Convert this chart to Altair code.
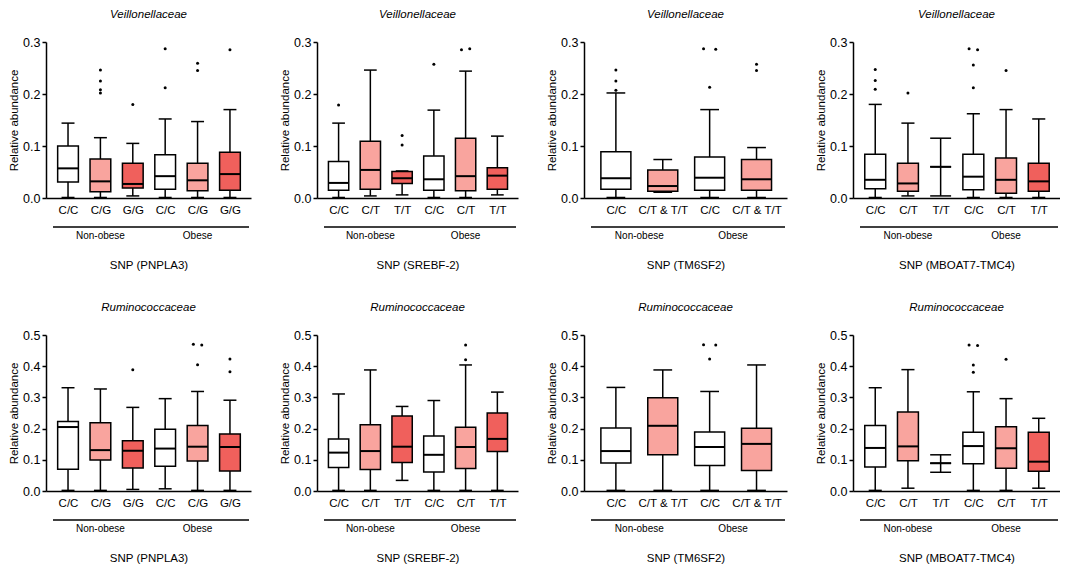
import json
import altair as alt
import pandas as pd

# ---------------- data ----------------
FAMILIES = ["Veillonellaceae", "Ruminococcaceae"]
GROUPS = ["Non-obese", "Obese"]
SNPS = ["PNPLA3", "SREBF-2", "TM6SF2", "MBOAT7-TMC4"]
GENOTYPES = {
    "PNPLA3": ["C/C", "C/G", "G/G"],
    "SREBF-2": ["C/C", "C/T", "T/T"],
    "TM6SF2": ["C/C", "C/T & T/T"],
    "MBOAT7-TMC4": ["C/C", "C/T", "T/T"],
}
Y_MAX = [0.3, 0.5]
Y_TICKS = [[0.0, 0.1, 0.2, 0.3], [0.0, 0.1, 0.2, 0.3, 0.4, 0.5]]

# Veillonellaceae (order: Non-obese genotypes, then Obese genotypes)
V_PNPLA3_lo = [0.001, 0.001, 0.004, 0.001, 0.001, 0.001]
V_PNPLA3_q1 = [0.031, 0.012, 0.019, 0.017, 0.014, 0.015]
V_PNPLA3_med = [0.057, 0.032, 0.027, 0.042, 0.034, 0.046]
V_PNPLA3_q3 = [0.100, 0.075, 0.067, 0.083, 0.067, 0.088]
V_PNPLA3_hi = [0.144, 0.116, 0.105, 0.152, 0.147, 0.170]
V_PNPLA3_out = [[], [0.246, 0.225, 0.208, 0.202], [0.180], [0.287, 0.212], [0.259, 0.245], [0.285]]

V_SREBF2_lo = [0.001, 0.004, 0.006, 0.001, 0.001, 0.006]
V_SREBF2_q1 = [0.015, 0.017, 0.028, 0.015, 0.014, 0.017]
V_SREBF2_med = [0.029, 0.054, 0.038, 0.036, 0.042, 0.043]
V_SREBF2_q3 = [0.070, 0.109, 0.051, 0.081, 0.115, 0.058]
V_SREBF2_hi = [0.144, 0.246, 0.052, 0.169, 0.244, 0.119]
V_SREBF2_out = [[0.179], [], [0.120, 0.102], [0.257], [0.285, 0.287], []]

V_TM6SF2_lo = [0.001, 0.011, 0.001, 0.001]
V_TM6SF2_q1 = [0.017, 0.013, 0.015, 0.015]
V_TM6SF2_med = [0.038, 0.023, 0.039, 0.036]
V_TM6SF2_q3 = [0.089, 0.054, 0.079, 0.074]
V_TM6SF2_hi = [0.202, 0.074, 0.170, 0.097]
V_TM6SF2_out = [[0.246, 0.225, 0.207], [], [0.287, 0.286, 0.213], [0.257, 0.245]]

V_MBOAT7_lo = [0.001, 0.004, 0.004, 0.001, 0.001, 0.001]
V_MBOAT7_q1 = [0.018, 0.013, 0.060, 0.016, 0.009, 0.013]
V_MBOAT7_med = [0.035, 0.028, 0.060, 0.041, 0.035, 0.032]
V_MBOAT7_q3 = [0.084, 0.067, 0.060, 0.084, 0.077, 0.067]
V_MBOAT7_hi = [0.180, 0.144, 0.115, 0.162, 0.170, 0.152]
V_MBOAT7_out = [[0.247, 0.226, 0.209], [0.202], [], [0.287, 0.285, 0.256, 0.212], [0.245], []]

# Ruminococcaceae
R_PNPLA3_lo = [0.002, 0.002, 0.005, 0.007, 0.002, 0.002]
R_PNPLA3_q1 = [0.070, 0.099, 0.074, 0.079, 0.096, 0.064]
R_PNPLA3_med = [0.205, 0.131, 0.129, 0.136, 0.142, 0.141]
R_PNPLA3_q3 = [0.223, 0.219, 0.161, 0.198, 0.210, 0.183]
R_PNPLA3_hi = [0.331, 0.327, 0.268, 0.296, 0.319, 0.291]
R_PNPLA3_out = [[], [], [0.389], [], [0.470, 0.468, 0.405], [0.423, 0.382]]

R_SREBF2_lo = [0.002, 0.002, 0.034, 0.002, 0.002, 0.002]
R_SREBF2_q1 = [0.075, 0.069, 0.091, 0.061, 0.072, 0.127]
R_SREBF2_med = [0.123, 0.128, 0.142, 0.116, 0.141, 0.167]
R_SREBF2_q3 = [0.167, 0.212, 0.240, 0.176, 0.204, 0.250]
R_SREBF2_hi = [0.311, 0.388, 0.271, 0.290, 0.404, 0.317]
R_SREBF2_out = [[], [], [], [], [0.468, 0.421], []]

R_TM6SF2_lo = [0.002, 0.002, 0.002, 0.002]
R_TM6SF2_q1 = [0.090, 0.116, 0.082, 0.066]
R_TM6SF2_med = [0.128, 0.209, 0.141, 0.151]
R_TM6SF2_q3 = [0.202, 0.299, 0.189, 0.201]
R_TM6SF2_hi = [0.332, 0.388, 0.319, 0.404]
R_TM6SF2_out = [[], [], [0.469, 0.468, 0.423], []]

R_MBOAT7_lo = [0.002, 0.009, 0.060, 0.002, 0.002, 0.009]
R_MBOAT7_q1 = [0.077, 0.097, 0.089, 0.087, 0.073, 0.063]
R_MBOAT7_med = [0.138, 0.143, 0.089, 0.144, 0.137, 0.094]
R_MBOAT7_q3 = [0.210, 0.253, 0.089, 0.188, 0.206, 0.188]
R_MBOAT7_hi = [0.331, 0.389, 0.116, 0.318, 0.296, 0.233]
R_MBOAT7_out = [[], [], [], [0.468, 0.466, 0.404, 0.381], [0.422], []]

STATS = {
    (0, "PNPLA3"): (V_PNPLA3_lo, V_PNPLA3_q1, V_PNPLA3_med, V_PNPLA3_q3, V_PNPLA3_hi, V_PNPLA3_out),
    (0, "SREBF-2"): (V_SREBF2_lo, V_SREBF2_q1, V_SREBF2_med, V_SREBF2_q3, V_SREBF2_hi, V_SREBF2_out),
    (0, "TM6SF2"): (V_TM6SF2_lo, V_TM6SF2_q1, V_TM6SF2_med, V_TM6SF2_q3, V_TM6SF2_hi, V_TM6SF2_out),
    (0, "MBOAT7-TMC4"): (V_MBOAT7_lo, V_MBOAT7_q1, V_MBOAT7_med, V_MBOAT7_q3, V_MBOAT7_hi, V_MBOAT7_out),
    (1, "PNPLA3"): (R_PNPLA3_lo, R_PNPLA3_q1, R_PNPLA3_med, R_PNPLA3_q3, R_PNPLA3_hi, R_PNPLA3_out),
    (1, "SREBF-2"): (R_SREBF2_lo, R_SREBF2_q1, R_SREBF2_med, R_SREBF2_q3, R_SREBF2_hi, R_SREBF2_out),
    (1, "TM6SF2"): (R_TM6SF2_lo, R_TM6SF2_q1, R_TM6SF2_med, R_TM6SF2_q3, R_TM6SF2_hi, R_TM6SF2_out),
    (1, "MBOAT7-TMC4"): (R_MBOAT7_lo, R_MBOAT7_q1, R_MBOAT7_med, R_MBOAT7_q3, R_MBOAT7_hi, R_MBOAT7_out),
}

# ---------------- style ----------------
FILLS = ["#FFFFFF", "#F9A49E", "#F0605C"]
FONT = "Liberation Sans"
PANEL_W = [205, 201, 203, 207]
PANEL_H = 156
BOX_HALF = 0.32
CAP_HALF = 0.2


def panel(row, snp, width):
    genos = GENOTYPES[snp]
    k = len(genos)
    n = 2 * k
    lo, q1, med, q3, hi, out = STATS[(row, snp)]
    rows = []
    for i in range(n):
        pos = i + 1
        cap = BOX_HALF if q1[i] == q3[i] else CAP_HALF
        rows.append(dict(pos=pos, fill=FILLS[i % k], lo=lo[i], q1=q1[i], med=med[i],
                         q3=q3[i], hi=hi[i], x_lo=pos - BOX_HALF, x_hi=pos + BOX_HALF,
                         c_lo=pos - cap, c_hi=pos + cap))
    df = pd.DataFrame(rows)

    orows = []
    for i, vals in enumerate(out):
        used = [False] * len(vals)
        for a in range(len(vals)):
            if used[a]:
                continue
            cluster = [a]
            for b in range(a + 1, len(vals)):
                if not used[b] and abs(vals[a] - vals[b]) < 0.004:
                    cluster.append(b)
            for j, c in enumerate(cluster):
                used[c] = True
                off = (j - (len(cluster) - 1) / 2) * 0.26
                orows.append(dict(pos=i + 1 + off, v=vals[c]))
    odf = pd.DataFrame(orows if orows else [dict(pos=None, v=None)])

    gdf = pd.DataFrame([dict(group=g, pos=(gi * k + 1 + gi * k + k) / 2) for gi, g in enumerate(GROUPS)])

    labels = [genos[i % k] for i in range(n)]
    x_scale = alt.Scale(domain=[0.32, n + 0.65], nice=False, zero=False)
    y_scale = alt.Scale(domain=[0, Y_MAX[row]], nice=False, zero=True)
    xaxis = alt.Axis(values=list(range(1, n + 1)), tickCount=20,
                     labelExpr=json.dumps(labels) + "[datum.value - 1]",
                     title="SNP (" + snp + ")", grid=False, tickSize=0,
                     domainColor="black", domainWidth=1.5, labelPadding=6,
                     labelFontSize=11.5, labelColor="black", labelAngle=0,
                     labelFlush=False, labelOverlap=False,
                     titleFontSize=11.5, titleFontWeight="normal", titleColor="black",
                     titleY=70, titleBaseline="alphabetic")
    yaxis = alt.Axis(values=Y_TICKS[row], tickCount=20,
                     format=".1f", title="Relative abundance",
                     grid=False, tickSize=4, tickWidth=1.5, tickColor="black",
                     domainColor="black", domainWidth=1.5, labelFontSize=12.5,
                     labelColor="black", labelPadding=2, titlePadding=3,
                     labelOverlap=False, labelFlush=False,
                     titleFontSize=11.5, titleFontWeight="normal", titleColor="black")

    def X(field):
        return alt.X(field, type="quantitative", scale=x_scale, axis=xaxis)

    def Y(field):
        return alt.Y(field, type="quantitative", scale=y_scale, axis=yaxis)

    base = alt.Chart(df)
    whisker = base.mark_rule(color="black", strokeWidth=1.5).encode(
        x=X("pos"), y=Y("lo"), y2="hi:Q")
    box = base.mark_rect(stroke="black", strokeWidth=1.5).encode(
        x=X("x_lo"), x2="x_hi:Q", y=Y("q1"), y2="q3:Q",
        fill=alt.Fill("fill:N", scale=None),
    )
    median = base.mark_rule(color="black", strokeWidth=2).encode(
        x=X("x_lo"), x2="x_hi:Q", y=Y("med"))
    cap_hi = base.mark_rule(color="black", strokeWidth=1.5).encode(
        x=X("c_lo"), x2="c_hi:Q", y=Y("hi"))
    cap_lo = base.mark_rule(color="black", strokeWidth=1.5).encode(
        x=X("c_lo"), x2="c_hi:Q", y=Y("lo"))
    pts = alt.Chart(odf).mark_circle(color="black", size=9, opacity=1).encode(
        x=X("pos"), y=Y("v"))
    gline = alt.Chart(pd.DataFrame({"a": [0]})).mark_rule(color="black", strokeWidth=1.5).encode(
        x=alt.value(7), x2=alt.value(width - 2), y=alt.value(PANEL_H + 29))
    gtext = alt.Chart(gdf).mark_text(fontSize=10, baseline="middle", color="black").encode(
        x=X("pos"), y=alt.value(PANEL_H + 38), text="group:N")

    return alt.layer(whisker, box, median, cap_hi, cap_lo, pts, gline, gtext).properties(
        width=width, height=PANEL_H,
        title=alt.TitleParams(FAMILIES[row], fontStyle="italic", fontWeight="normal",
                              fontSize=11.5, offset=16, frame="group", anchor="middle",
                              color="black"),
    )


rows_charts = []
for r in range(2):
    rows_charts.append(alt.hconcat(*[panel(r, s, PANEL_W[j]) for j, s in enumerate(SNPS)], spacing=28))

chart = alt.vconcat(*rows_charts, spacing=30).properties(padding=0).configure(
    font=FONT).configure_view(stroke=None)

chart.save("out.html", embed_options={"renderer": "svg", "actions": False})
